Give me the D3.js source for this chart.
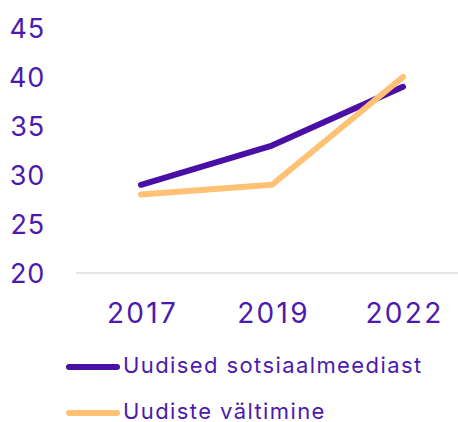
<!DOCTYPE html>
<html><head><meta charset="utf-8">
<script src="https://cdn.jsdelivr.net/npm/d3@7"></script>
<style>html,body{margin:0;padding:0;background:#fff;}svg{display:block;}</style>
</head><body>
<svg id="c" width="458" height="422"></svg>
<script>
const categories = ["2017", "2019", "2022"];
const seriesNames = ["Uudised sotsiaalmeediast", "Uudiste vältimine"];
const socialMedia = [29, 33, 39];
const avoidance = [28, 29, 40];
const yTicks = [20, 25, 30, 35, 40, 45];
const colors = ["#4A10A6", "#FFC174"];
const textColor = "#4C1AAD";
const font = "Inter, 'Noto Sans', sans-serif";

const svg = d3.select("#c");
const x = d3.scalePoint().domain(categories).range([141, 403]);
const y = d3.scaleLinear().domain([20, 45]).range([273, 28]);

// baseline grid
svg.append("line").attr("x1", 76).attr("x2", 458)
  .attr("y1", y(20)).attr("y2", y(20))
  .attr("stroke", "#dcdcdc").attr("stroke-width", 1.5);

// y axis
const yAxis = d3.axisLeft(y).tickValues(yTicks).tickSize(0).tickPadding(0);
const yg = svg.append("g").attr("transform", "translate(45,0)").call(yAxis);
yg.select(".domain").remove();
yg.selectAll("text").attr("font-family", font).attr("font-size", 27)
  .attr("letter-spacing", 0.8)
  .attr("fill", textColor).attr("dy", "0.35em");

// x axis
const xAxis = d3.axisBottom(x).tickSize(0).tickPadding(0);
const xg = svg.append("g").attr("transform", "translate(1,323)").call(xAxis);
xg.select(".domain").remove();
xg.selectAll("text").attr("font-family", font).attr("font-size", 28)
  .attr("letter-spacing", 2.3)
  .attr("fill", textColor).attr("dy", 0).attr("y", 0);

const line = d3.line().x((d, i) => x(categories[i])).y(d => y(d));
[socialMedia, avoidance].forEach((s, k) => {
  svg.append("path").datum(s).attr("d", line)
    .attr("fill", "none").attr("stroke", colors[k])
    .attr("stroke-width", 6).attr("stroke-linecap", "round").attr("stroke-linejoin", "round");
});

// legend
const leg = svg.append("g");
seriesNames.forEach((n, k) => {
  const yy = 367 + k * 46;
  leg.append("line").attr("x1", 69).attr("x2", 117).attr("y1", yy).attr("y2", yy)
    .attr("stroke", colors[k]).attr("stroke-width", 6).attr("stroke-linecap", "round");
  leg.append("text").attr("x", 123).attr("y", yy + 5.5)
    .attr("font-family", font).attr("font-size", 22).attr("letter-spacing", 1.4)
    .attr("fill", textColor).text(n);
});
</script>
</body></html>
